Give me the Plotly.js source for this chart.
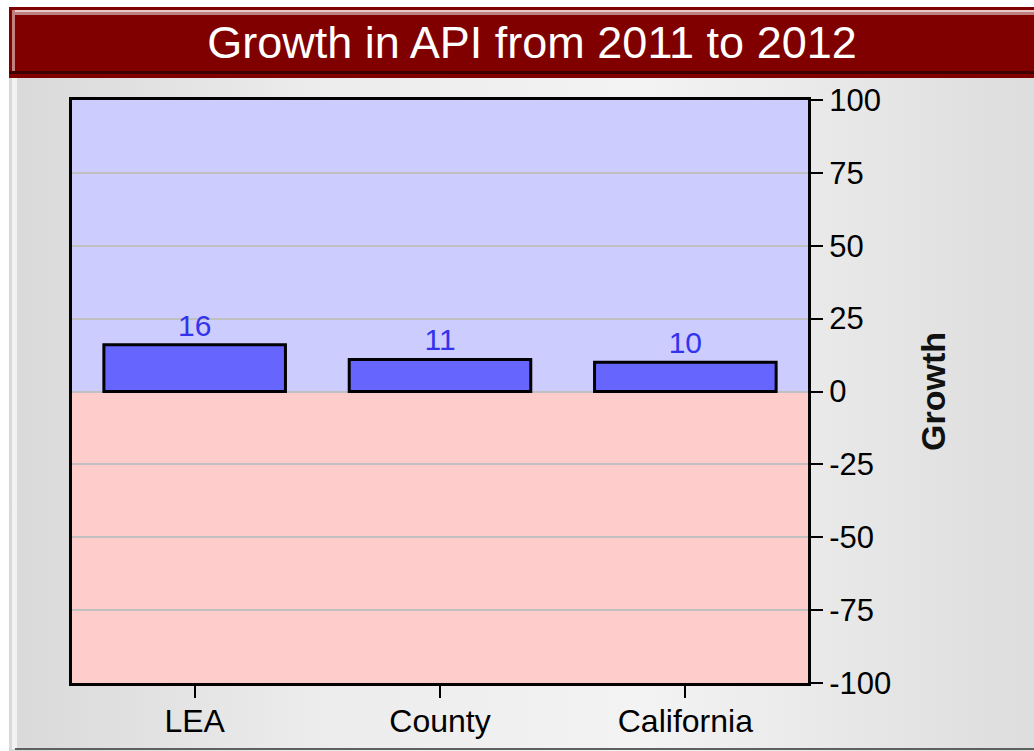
<!DOCTYPE html>
<html>
<head>
<meta charset="utf-8">
<script src="https://cdn.plot.ly/plotly-3.0.1.min.js"></script>
<style>
  html, body { margin: 0; padding: 0; background: #ffffff; }
  #wrap { position: relative; width: 1034px; height: 751px; overflow: hidden; background: #ffffff; }
  #bg { position: absolute; left: 9px; top: 7px; right: 0; bottom: 0;
        background: linear-gradient(to right, #d9d9d9 0%, #ececec 30%, #f3f3f3 62%, #dddddd 100%); }
  #strip { position: absolute; left: 12px; top: 7px; width: 5px; bottom: 2px; background: #f2f2f2; }
  #bar { position: absolute; left: 9px; top: 7px; right: 0; height: 71px; background: #800000; }
  #barhl1 { position: absolute; left: 12px; top: 10px; right: 0; height: 2px; background: #e8caca; }
  #barhl2 { position: absolute; left: 12px; top: 12px; right: 0; height: 3px; background: #c08080; }
  #barhl3 { position: absolute; left: 12px; top: 10px; width: 3px; height: 61px; background: #c08080; }
  #barsh { position: absolute; left: 9px; top: 71px; right: 0; height: 3px; background: #400000; }
  #bottomline { position: absolute; left: 15px; right: 0; bottom: 1px; height: 2px; background: #606060; }
  #chart { position: absolute; left: 0; top: 0; width: 1034px; height: 751px; }
</style>
</head>
<body>
<div id="wrap">
  <div id="bg"></div>
  <div id="strip"></div>
  <div id="bar"></div>
  <div id="barhl1"></div>
  <div id="barhl2"></div>
  <div id="barhl3"></div>
  <div id="barsh"></div>
  <div id="bottomline"></div>
  <div id="chart"></div>
</div>
<script>
const categories = ["LEA", "County", "California"];
const growth = [16, 11, 10];
const yTicks = [100, 75, 50, 25, 0, -25, -50, -75, -100];
const yTickLabels = ["100", "75", "50", "25", "0", "-25", "-50", "-75", "-100"];

const FONT = "Liberation Sans, Arial, sans-serif";

const trace = {
  type: "bar",
  x: categories,
  y: growth,
  width: 0.74,
  marker: { color: "#6666ff", line: { color: "#000000", width: 3 } },
  text: growth.map(String),
  textposition: "outside",
  textfont: { family: FONT, size: 30, color: "#3333ee" },
  cliponaxis: false,
  hoverinfo: "x+y"
};

const layout = {
  width: 1034,
  height: 751,
  paper_bgcolor: "rgba(0,0,0,0)",
  plot_bgcolor: "rgba(0,0,0,0)",
  margin: { l: 72, r: 226, t: 100, b: 68 },
  showlegend: false,
  title: {
    text: "Growth in API from 2011 to 2012",
    font: { family: FONT, size: 45, color: "#ffffff" },
    x: 0.5145, xanchor: "center",
    y: 0.944, yanchor: "middle", yref: "container"
  },
  xaxis: {
    type: "category",
    range: [-0.5, 2.5],
    showline: true, mirror: true, linewidth: 3, linecolor: "#000000",
    ticks: "outside", ticklen: 12, tickwidth: 2, tickcolor: "#000000",
    ticklabelstandoff: -4,
    tickfont: { family: FONT, size: 32, color: "#000000" },
    showgrid: false, zeroline: false,
    fixedrange: true
  },
  yaxis: {
    side: "right",
    range: [-100, 100],
    tickvals: yTicks,
    ticktext: yTickLabels,
    showline: true, mirror: true, linewidth: 3, linecolor: "#000000",
    ticks: "outside", ticklen: 12, tickwidth: 2, tickcolor: "#000000",
    tickfont: { family: FONT, size: 31, color: "#000000" },
    showgrid: true, gridcolor: "#c0c0c0", gridwidth: 2,
    zeroline: false,
    automargin: false,
    title: { text: "Growth", font: { family: FONT, size: 34, color: "#111111", weight: "bold" }, standoff: 31 },
    fixedrange: true
  },
  shapes: [
    { type: "rect", xref: "paper", yref: "y", x0: 0, x1: 1, y0: 0, y1: 100,
      fillcolor: "#ccccff", line: { width: 0 }, layer: "below" },
    { type: "rect", xref: "paper", yref: "y", x0: 0, x1: 1, y0: -100, y1: 0,
      fillcolor: "#ffcccc", line: { width: 0 }, layer: "below" }
  ],
  bargap: 0.26
};

Plotly.newPlot("chart", [trace], layout, { displayModeBar: false, staticPlot: true });
</script>
</body>
</html>
